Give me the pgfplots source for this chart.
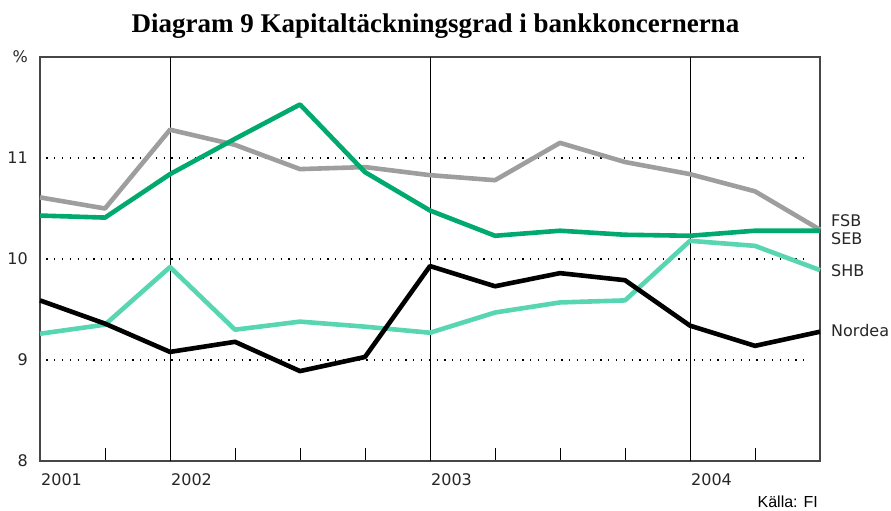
\documentclass[border=0pt]{standalone}
\usepackage{fontspec}
\usepackage{pgfplots}
\pgfplotsset{compat=1.18}
\setmainfont{DejaVu Sans}
\newfontfamily\titlefont{Liberation Serif}
\newfontfamily\srcfont{Liberation Sans}

\definecolor{fsbgrey}{RGB}{158,158,158}
\definecolor{sebgreen}{RGB}{0,170,110}
\definecolor{shbteal}{RGB}{88,214,178}
\definecolor{framegrey}{RGB}{70,70,70}

\begin{document}
\begin{tikzpicture}[font=\fontsize{16pt}{19pt}\selectfont]
  \begin{axis}[
      scale only axis, width=780pt, height=404pt,
      xmin=0, xmax=12, ymin=8, ymax=12,
      clip=false,
      axis line style={framegrey, line width=1.2pt},
      xtick={0,...,12},
      xticklabels={2001,,2002,,,,2003,,,,2004,,},
      xtick pos=bottom, tick align=inside, major tick length=13pt,
      x tick style={black, line width=0.9pt},
      xticklabel style={anchor=base west, inner sep=0pt, yshift=-24pt, xshift=1pt, text=black!85},
      extra x ticks={2,6,10}, extra x tick labels={},
      extra x tick style={grid=major, major tick length=0pt},
      x grid style={black, line width=0.9pt, solid},
      ytick={8,9,10,11},
      ytick style={draw=none},
      yticklabel style={anchor=east, inner sep=0pt, xshift=-12pt, text=black!85},
      /pgf/number format/assume math mode=true,
      every axis plot/.append style={line width=4.6pt, line join=round, no marks},
    ]
    \coordinate (o) at (rel axis cs:0,0);
    % dotted horizontal grid, inset from the frame as in the original
    \foreach \g in {9,10,11} {
      \edef\tmp{\noexpand\draw[black, line width=1.1pt, dash pattern=on 1.2pt off 6.6pt]
        (axis cs:0.1,\g) -- (axis cs:11.85,\g);}
      \tmp
    }
    % FSB
    \addplot[fsbgrey] coordinates {(0,10.61) (1,10.50) (2,11.28) (3,11.13) (4,10.89) (5,10.91) (6,10.83) (7,10.78) (8,11.15) (9,10.96) (10,10.84) (11,10.67) (12,10.29)};
    % SEB
    \addplot[sebgreen] coordinates {(0,10.43) (1,10.41) (2,10.84) (3,11.19) (4,11.53) (5,10.86) (6,10.48) (7,10.23) (8,10.28) (9,10.24) (10,10.23) (11,10.28) (12,10.28)};
    % SHB
    \addplot[shbteal] coordinates {(0,9.26) (1,9.35) (2,9.92) (3,9.30) (4,9.38) (5,9.33) (6,9.27) (7,9.47) (8,9.57) (9,9.59) (10,10.18) (11,10.13) (12,9.89)};
    % Nordea
    \addplot[black] coordinates {(0,9.59) (1,9.36) (2,9.08) (3,9.18) (4,8.89) (5,9.03) (6,9.93) (7,9.73) (8,9.86) (9,9.79) (10,9.34) (11,9.14) (12,9.28)};

    \node[anchor=west, inner sep=0pt, xshift=11pt, text=black!85] at (axis cs:12,10.38) {FSB};
    \node[anchor=west, inner sep=0pt, xshift=11pt, text=black!85] at (axis cs:12,10.20) {SEB};
    \node[anchor=west, inner sep=0pt, xshift=11pt, text=black!85] at (axis cs:12,9.88) {SHB};
    \node[anchor=west, inner sep=0pt, xshift=11pt, text=black!85] at (axis cs:12,9.29) {Nordea};
    \node[anchor=east, inner sep=0pt, xshift=-12pt, text=black!85] at (axis cs:0,12) {\%};
  \end{axis}
  \node[anchor=base, inner sep=0pt] at ([shift={(395.5pt,428pt)}]o)
    {\titlefont\bfseries\fontsize{27pt}{32pt}\selectfont Diagram 9 Kapitaltäckningsgrad i bankkoncernerna};
  \node[anchor=base east, inner sep=0pt] at ([shift={(778pt,-46pt)}]o)
    {\srcfont\fontsize{16pt}{19pt}\selectfont Källa: FI};
  \pgfresetboundingbox
  \path (o) ++(-40pt,-50pt) rectangle ++(891pt,511pt);
\end{tikzpicture}
\end{document}
